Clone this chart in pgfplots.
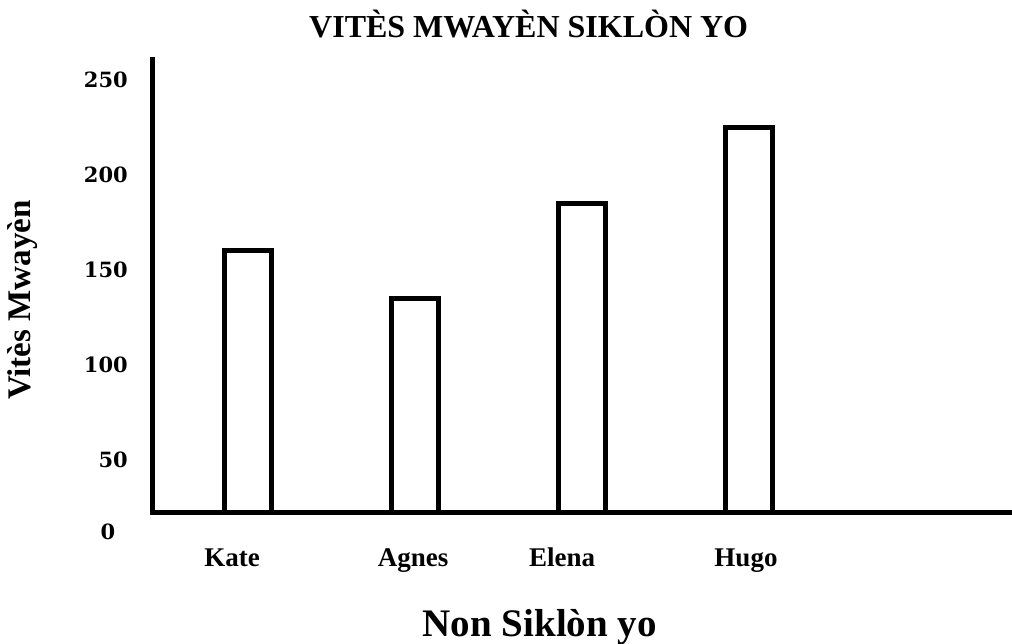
\documentclass[border=0pt]{standalone}
\usepackage{fontspec}
\setmainfont{Liberation Serif}
\newfontfamily\numfont{DejaVu Serif}
\usepackage{pgfplots}
\pgfplotsset{compat=1.18}
\begin{document}
\begin{tikzpicture}
\useasboundingbox (0,0) rectangle (1012pt,644pt);
\begin{axis}[
  at={(152pt,131pt)}, anchor=south west,
  scale only axis, width=860pt, height=453pt,
  xmin=-0.575, xmax=4.575, ymin=22.1, ymax=260.5,
  axis x line*=bottom, axis y line*=left,
  axis line style={line width=5pt, line cap=rect},
  tick style={draw=none},
  ybar, bar width=47pt,
  xtick={0,1,2,3}, xticklabels={\kern-32pt Kate,\kern-4pt Agnes,\kern-40pt Elena,\kern-6pt Hugo},
  ytick={50,100,150,200,250}, yticklabels={50,100,150,200,250},
  xticklabel style={font=\fontsize{27}{30}\selectfont\bfseries, anchor=base, inner sep=0pt, yshift=-49pt},
  yticklabel style={font=\numfont\fontsize{21}{24}\selectfont\bfseries, anchor=east, inner sep=0pt, xshift=-24pt},
  title={VITÈS MWAYÈN SIKLÒN YO},
  title style={font=\fontsize{32}{36}\selectfont\bfseries, at={(axis description cs:0.438,1.036)}, anchor=base, inner sep=0pt, yshift=0pt},
  xlabel={Non Siklòn yo},
  xlabel style={font=\fontsize{39}{44}\selectfont\bfseries, at={(axis description cs:0.451,-0.2737)}, anchor=base, inner sep=0pt},
  ylabel={Vitès Mwayèn},
  ylabel style={font=\fontsize{33}{38}\selectfont\bfseries, at={(axis description cs:-0.150,0.470)}, anchor=center, inner sep=0pt},
  extra description/.code={\node[font=\numfont\fontsize{21}{24}\selectfont\bfseries, inner sep=0pt] at (axis description cs:-0.0512,-0.0419) {0};},
]
\addplot[draw=black, fill=white, line width=5pt] coordinates {(0,160) (1,135) (2,185) (3,225)};
\end{axis}
\end{tikzpicture}
\end{document}
